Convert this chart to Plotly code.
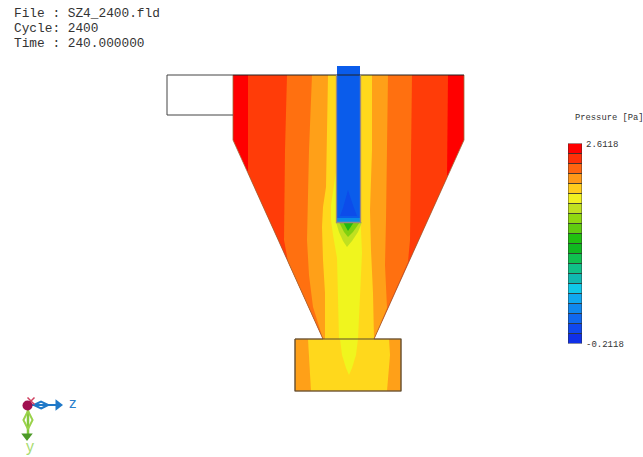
import plotly.graph_objects as go

MONO = "Liberation Mono"
header_lines = ["File : SZ4_2400.fld", "Cycle: 2400", "Time : 240.000000"]
header_y = [13, 28, 43]
legend_title = "Pressure [Pa]"
p_min, p_max = -0.2118, 2.6118
legend_colors = ["#1030e8", "#1048ee", "#1068ee", "#1088ee", "#10a8f0", "#10c8e8", "#10b8b0",
                 "#10c088", "#10c050", "#10b820", "#20c010", "#60cc10", "#90d810", "#c0e020",
                 "#f0f020", "#ffcc1c", "#ff9818", "#ff6410", "#ff3008", "#ff0000"]

# contour bands, painted from the outside in
shell_x = [233, 464, 464, 374, 323, 233]
shell_y = [75, 75, 140, 339, 339, 140]
redorange_x = [248, 448, 447, 374, 323, 248]
redorange_y = [75, 75, 177, 339, 339, 173]
orange_x = [287, 285, 284, 288, 323, 374, 408, 410, 412]
orange_y = [75, 150, 240, 262, 339, 339, 262, 240, 75]
lightorange_x = [312, 309, 307, 309, 313, 323, 374, 387, 385, 386, 388]
lightorange_y = [75, 150, 240, 275, 307, 339, 339, 308, 265, 220, 75]
gold_x = [328, 327, 326, 323, 322, 323, 325, 325, 374, 373, 371, 370, 371, 372, 372]
gold_y = [75, 150, 187, 207, 227, 260, 293, 339, 339, 293, 250, 210, 180, 150, 75]
yellow_x = [337, 334, 331, 331, 333, 337, 339, 358, 362, 361, 360, 360]
yellow_y = [165, 185, 205, 220, 235, 258, 339, 339, 253, 230, 217, 190]
lime_x = [336, 339, 343, 347, 352, 358, 362]
lime_y = [222, 232, 241, 247, 241, 232, 222]
midgreen_x = [339, 344, 348, 353, 360]
midgreen_y = [222, 232, 237, 232, 222]
darkgreen_x = [343, 348, 354]
darkgreen_y = [222, 231, 222]

box_x = [295, 401, 401, 295]
box_y = [339, 339, 391, 391]
boxgold_x = [308, 389, 390, 387, 311]
boxgold_y = [339, 339, 355, 391, 391]
boxyellow_x = [340, 358, 356, 352, 349, 346, 342]
boxyellow_y = [339, 339, 355, 368, 375, 368, 355]

pipe_x = [337, 360, 360, 337]
pipe_y = [66, 66, 222, 222]
pipecore_x = [348, 351, 354, 357, 340, 343, 345]
pipecore_y = [190, 200, 208, 216, 216, 208, 200]
pipetip_x = [337, 360, 360, 337]
pipetip_y = [218, 218, 222, 222]

sidebox_x = [233, 167, 167, 233]
sidebox_y = [75, 75, 115, 115]
topline_x = [233, 464]
topline_y = [75, 75]
pipewall_x = [336.5, 336.5, 360.5, 360.5]
pipewall_y = [75, 222.5, 222.5, 75]
outline_x = [233, 233, 323, 295, 295, 401, 401, 374, 464, 464]
outline_y = [75, 140, 339, 339, 391, 391, 339, 339, 140, 75]

fig = go.Figure()


def fill(x, y, color):
    fig.add_trace(go.Scatter(x=x + x[:1], y=y + y[:1], mode="lines", fill="toself",
                             fillcolor=color, line=dict(width=0, color=color), hoverinfo="skip"))


def line(x, y, color, width=1):
    fig.add_trace(go.Scatter(x=x, y=y, mode="lines", line=dict(color=color, width=width), hoverinfo="skip"))


fill(shell_x, shell_y, "#ff0000")
fill(redorange_x, redorange_y, "#ff3c08")
fill(orange_x, orange_y, "#ff7010")
fill(lightorange_x, lightorange_y, "#ffa018")
fill(gold_x, gold_y, "#ffd81c")
fill(box_x, box_y, "#ffa018")
fill(boxgold_x, boxgold_y, "#ffd81c")
fill(yellow_x, yellow_y, "#f0f51e")
fill(boxyellow_x, boxyellow_y, "#f0f51e")
fill(lime_x, lime_y, "#c0e020")
fill(midgreen_x, midgreen_y, "#80d010")
fill(darkgreen_x, darkgreen_y, "#20b810")
fill(pipe_x, pipe_y, "#0a5ceb")
fill(pipecore_x, pipecore_y, "#0c4cea")
fill(pipetip_x, pipetip_y, "#0a8ce8")

line(outline_x, outline_y, "#a06a38", 0.8)
line(box_x + box_x[:1], box_y + box_y[:1], "#5a4a30", 1.1)
line(sidebox_x, sidebox_y, "#444444", 1)
line(topline_x, topline_y, "#222222", 1)
line(pipewall_x, pipewall_y, "#9a8a80", 1.3)

# orientation triad
fig.add_trace(go.Scatter(x=[28, 58], y=[405, 405], mode="lines", line=dict(color="#1f78c8", width=2), hoverinfo="skip"))
fig.add_trace(go.Scatter(x=[28, 28], y=[405, 438], mode="lines", line=dict(color="#84c83c", width=2.5), hoverinfo="skip"))
fig.add_trace(go.Scatter(x=[41], y=[405], mode="markers", hoverinfo="skip",
                         marker=dict(symbol="diamond-wide-open", size=10, color="#1f78c8",
                                     line=dict(width=2, color="#1f78c8"))))
fig.add_trace(go.Scatter(x=[28], y=[420], mode="markers", hoverinfo="skip",
                         marker=dict(symbol="diamond-tall-open", size=13, color="#9ad24a",
                                     line=dict(width=2, color="#9ad24a"))))
fig.add_trace(go.Scatter(x=[58], y=[405], mode="markers", hoverinfo="skip",
                         marker=dict(symbol="triangle-right", size=10, color="#1f78c8")))
fig.add_trace(go.Scatter(x=[27], y=[436], mode="markers", hoverinfo="skip",
                         marker=dict(symbol="triangle-down", size=10, color="#4c9a28")))
fig.add_trace(go.Scatter(x=[31], y=[401], mode="markers", hoverinfo="skip",
                         marker=dict(symbol="x-thin", size=7, line=dict(width=1.5, color="#d04060"))))
fig.add_trace(go.Scatter(x=[27.5], y=[405.5], mode="markers", hoverinfo="skip",
                         marker=dict(symbol="circle", size=10, color="#a01050")))

# pressure legend, on its own scale
step = (p_max - p_min) / len(legend_colors)
fig.add_trace(go.Bar(x=["p"] * len(legend_colors), y=[step] * len(legend_colors),
                     base=[p_min + i * step for i in range(len(legend_colors))],
                     marker=dict(color=legend_colors, line=dict(color="#303030", width=0.8)),
                     width=1, xaxis="x2", yaxis="y2", hoverinfo="skip"))

W, H = 643, 457
ann = [dict(x=12, y=yy, text=t.replace(" ", "\u00a0"), xref="x", yref="y", xanchor="left", yanchor="middle",
            showarrow=False, font=dict(family=MONO, size=12.8, color="#333333"))
       for t, yy in zip(header_lines, header_y)]
ann.append(dict(x=573, y=118, text=legend_title, xref="x", yref="y", xanchor="left", yanchor="middle",
                showarrow=False, font=dict(family=MONO, size=8.8, color="#333333")))
ann.append(dict(x=73, y=402, text="z", xref="x", yref="y", showarrow=False,
                font=dict(family="Liberation Sans", size=15, color="#2a80cc")))
ann.append(dict(x=30, y=446, text="y", xref="x", yref="y", showarrow=False,
                font=dict(family="Liberation Sans", size=16, color="#a8dc70")))

fig.update_layout(
    width=W, height=H, autosize=False, showlegend=False, barmode="overlay",
    margin=dict(l=0, r=0, t=0, b=0, pad=0, autoexpand=False), paper_bgcolor="white", plot_bgcolor="white", annotations=ann,
    xaxis=dict(range=[0, W], visible=False, domain=[0, 1]),
    yaxis=dict(range=[H, 0], visible=False, domain=[0, 1]),
    xaxis2=dict(domain=[568 / W, 582 / W], anchor="y2", visible=False),
    yaxis2=dict(domain=[(H - 343.5) / H, (H - 143.5) / H], anchor="x2", side="right", range=[p_min, p_max],
                tickmode="array", tickvals=[p_min, p_max], ticktext=["-0.2118", "2.6118"], ticks="", showgrid=False,
                zeroline=False, showline=False, ticklabelstandoff=3,
                tickfont=dict(family=MONO, size=9, color="#333333")),
)
fig.write_html("out.html", config=dict(displayModeBar=False),
               post_script="document.body.style.margin='0';document.documentElement.style.overflow='hidden';")
